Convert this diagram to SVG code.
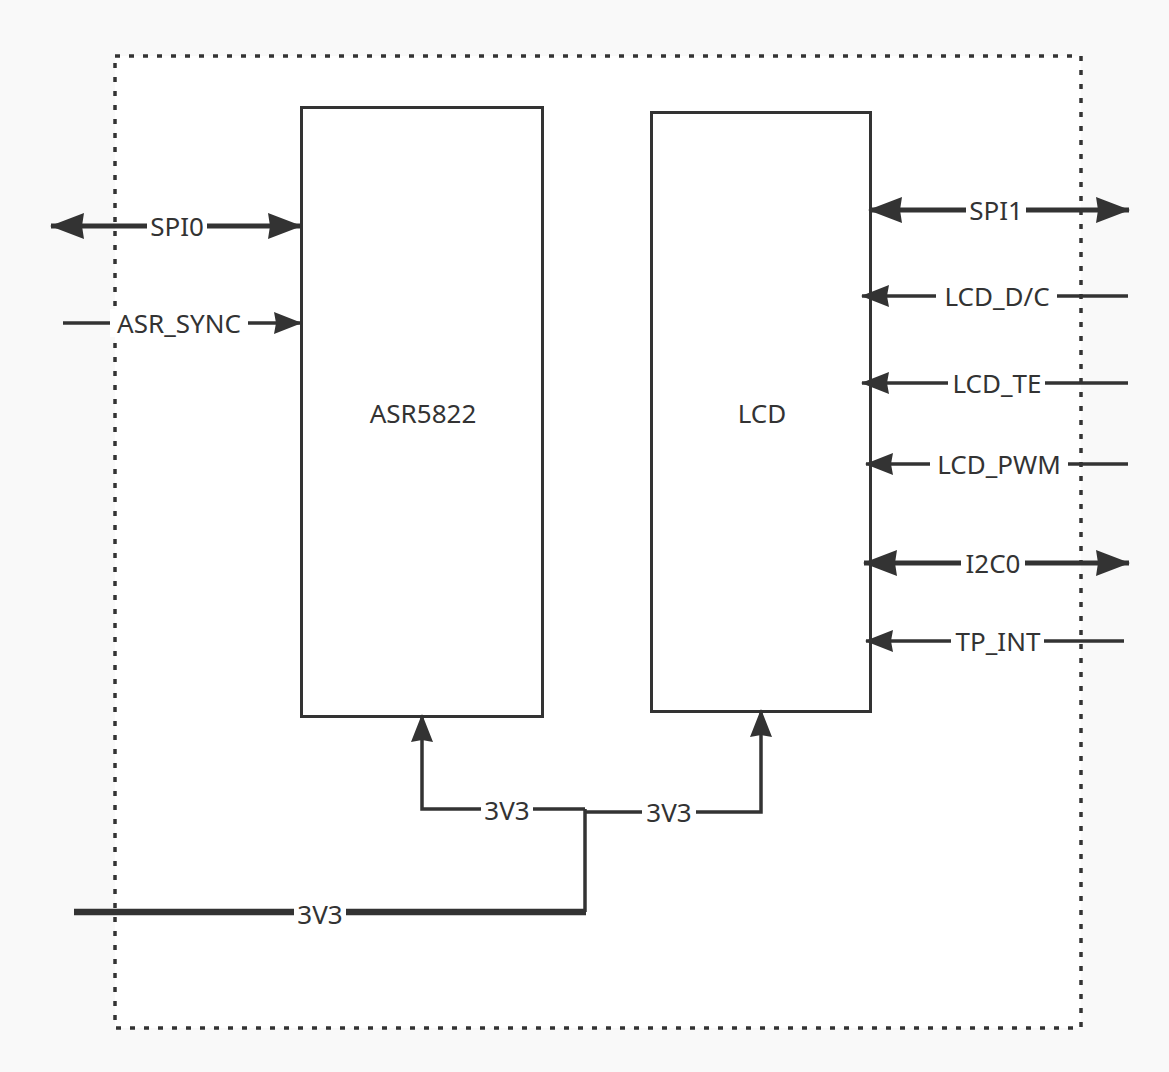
<svg xmlns="http://www.w3.org/2000/svg" width="1169" height="1072" viewBox="0 0 1169 1072">
<style>
.box{fill:#fff;stroke:#333;stroke-width:3}
.t{font-family:"Noto Sans","Open Sans","Liberation Sans",sans-serif;font-size:26px;fill:#333;text-anchor:middle;dominant-baseline:central}
.thick{stroke:#333;stroke-width:5;fill:none}
.thin{stroke:#333;stroke-width:3.5;fill:none}
.bg{fill:#fff}
</style>
<defs>
<marker id="big" markerUnits="userSpaceOnUse" markerWidth="36" markerHeight="26" viewBox="0 0 34 26" refX="33" refY="13" orient="auto-start-reverse">
<path d="M0,0 L34,13 L0,26 L2,13 Z" fill="#333"/>
</marker>
<marker id="sm" markerUnits="userSpaceOnUse" markerWidth="30" markerHeight="22" viewBox="0 0 28 22" refX="27" refY="11" orient="auto-start-reverse">
<path d="M0,0 L28,11 L0,22 L2,11 Z" fill="#333"/>
</marker>
</defs>
<rect x="0" y="0" width="1169" height="1072" fill="#f9f9f9"/>
<rect x="115" y="56" width="966" height="972" fill="#fff" stroke="#333" stroke-width="3.5" stroke-dasharray="5 9"/>
<g id="node-asr5822">
<rect class="box" x="301.5" y="107.5" width="241" height="609"/>
<text class="t" x="423" y="413">ASR5822</text>
</g>
<g id="node-lcd">
<rect class="box" x="651.5" y="112.5" width="219" height="599"/>
<text class="t" x="762" y="413">LCD</text>
</g>
<g id="connectors">
<line class="thick" x1="51" y1="226" x2="301" y2="226" marker-start="url(#big)" marker-end="url(#big)"/>
<line class="thin" x1="63" y1="323" x2="301" y2="323" marker-end="url(#sm)"/>
<line class="thick" x1="869" y1="210" x2="1129" y2="210" marker-start="url(#big)" marker-end="url(#big)"/>
<line class="thin" x1="1128" y1="296" x2="862" y2="296" marker-end="url(#sm)"/>
<line class="thin" x1="1128" y1="383" x2="862" y2="383" marker-end="url(#sm)"/>
<line class="thin" x1="1128" y1="464" x2="866" y2="464" marker-end="url(#sm)"/>
<line class="thick" x1="864" y1="563" x2="1129" y2="563" marker-start="url(#big)" marker-end="url(#big)"/>
<line class="thin" x1="1124" y1="641" x2="866" y2="641" marker-end="url(#sm)"/>
<polyline class="thin" points="585,809 422,809 422,715" marker-end="url(#sm)"/>
<polyline class="thin" points="585,812 761,812 761,710" marker-end="url(#sm)"/>
<polyline class="thin" points="585,912 585,809"/>
<line stroke="#333" stroke-width="6.5" x1="74" y1="912" x2="586" y2="912"/>
<rect class="bg" x="147" y="212" width="60" height="28"/>
<text class="t" x="177" y="226">SPI0</text>
<rect class="bg" x="110" y="309" width="138" height="28"/>
<text class="t" x="179" y="323">ASR_SYNC</text>
<rect class="bg" x="966" y="196" width="60" height="28"/>
<text class="t" x="996" y="210">SPI1</text>
<rect class="bg" x="936" y="282" width="121" height="28"/>
<text class="t" x="997" y="296">LCD_D/C</text>
<rect class="bg" x="948" y="369" width="97" height="28"/>
<text class="t" x="997" y="383">LCD_TE</text>
<rect class="bg" x="930" y="450" width="138" height="28"/>
<text class="t" x="999" y="464">LCD_PWM</text>
<rect class="bg" x="961" y="549" width="64" height="28"/>
<text class="t" x="993" y="563">I2C0</text>
<rect class="bg" x="951" y="627" width="93" height="28"/>
<text class="t" x="998" y="641">TP_INT</text>
<rect class="bg" x="481" y="796" width="52" height="28"/>
<text class="t" x="507" y="810">3V3</text>
<rect class="bg" x="642" y="798" width="54" height="28"/>
<text class="t" x="669" y="812">3V3</text>
<rect class="bg" x="294" y="898" width="52" height="30"/>
<text class="t" x="320" y="914">3V3</text>
</g>
</svg>
